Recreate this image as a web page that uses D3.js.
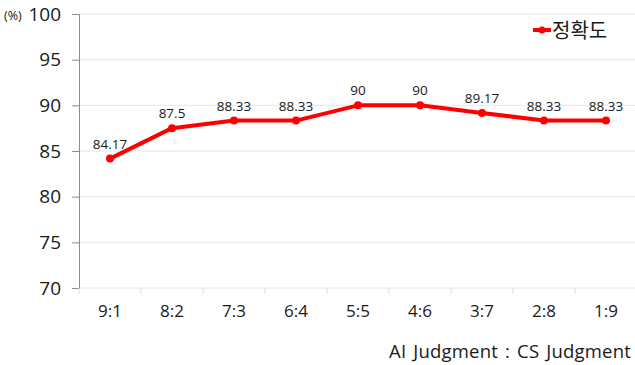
<!DOCTYPE html>
<html>
<head>
<meta charset="utf-8">
<script src="https://cdn.jsdelivr.net/npm/d3@7"></script>
<style>
  body { margin: 0; background: #fff; }
  svg text { font-family: "Open Sans", "Noto Sans CJK KR", sans-serif; fill: #1a1a1a; }
</style>
</head>
<body>
<svg width="635" height="365"></svg>
<script>
const categories = ["9:1", "8:2", "7:3", "6:4", "5:5", "4:6", "3:7", "2:8", "1:9"];
const accuracy = [84.17, 87.5, 88.33, 88.33, 90, 90, 89.17, 88.33, 88.33];
const valueLabels = ["84.17", "87.5", "88.33", "88.33", "90", "90", "89.17", "88.33", "88.33"];
const yTicks = [70, 75, 80, 85, 90, 95, 100];
const seriesName = "정확도";

const svg = d3.select("svg");
const plotLeft = 79, plotRight = 637, plotTop = 14, plotBottom = 288;

const x = d3.scaleBand().domain(categories).range([plotLeft, plotRight]);
const y = d3.scaleLinear().domain([70, 100]).range([plotBottom, plotTop]);

// gridlines
svg.append("g")
    .selectAll("line")
    .data(yTicks)
    .enter().append("line")
    .attr("x1", plotLeft).attr("x2", plotRight)
    .attr("y1", d => y(d)).attr("y2", d => y(d))
    .attr("stroke", "#e6e6e6").attr("stroke-width", 1);

// y axis
const yAxis = svg.append("g")
    .attr("transform", `translate(${plotLeft},0)`)
    .call(d3.axisLeft(y).tickValues(yTicks).tickSize(7).tickPadding(11));
yAxis.select(".domain").attr("stroke", "#8c8c8c");
yAxis.selectAll(".tick line").attr("stroke", "#8c8c8c");
yAxis.selectAll(".tick text").attr("font-size", 19).attr("fill", "#1a1a1a")
    .style("font-family", "'Open Sans', sans-serif");

// x axis ticks at band boundaries
const bounds = categories.map(c => x(c)).concat([plotRight]);
svg.append("g")
    .selectAll("line")
    .data(bounds)
    .enter().append("line")
    .attr("x1", d => d).attr("x2", d => d)
    .attr("y1", plotBottom).attr("y2", plotBottom + 6)
    .attr("stroke", "#e0e0e0");

svg.append("g")
    .selectAll("text")
    .data(categories)
    .enter().append("text")
    .attr("x", d => x(d) + x.bandwidth() / 2)
    .attr("y", plotBottom + 29)
    .attr("text-anchor", "middle")
    .attr("font-size", 17)
    .text(d => d);

svg.append("text")
    .attr("x", 4).attr("y", 20)
    .attr("font-size", 12.5)
    .text("(%)");

const pts = categories.map((c, i) => ({cat: c, v: accuracy[i], label: valueLabels[i]}));

svg.append("path")
    .datum(pts)
    .attr("fill", "none")
    .attr("stroke", "#ff0000")
    .attr("stroke-width", 4)
    .attr("stroke-linejoin", "round")
    .attr("d", d3.line().x(d => x(d.cat) + x.bandwidth() / 2).y(d => y(d.v)));

svg.append("g")
    .selectAll("circle")
    .data(pts)
    .enter().append("circle")
    .attr("cx", d => x(d.cat) + x.bandwidth() / 2)
    .attr("cy", d => y(d.v))
    .attr("r", 4)
    .attr("fill", "#ff0000");

svg.append("g")
    .selectAll("text")
    .data(pts)
    .enter().append("text")
    .attr("x", d => x(d.cat) + x.bandwidth() / 2)
    .attr("y", d => y(d.v) - 10)
    .attr("text-anchor", "middle")
    .attr("font-size", 13.5)
    .text(d => d.label);

// legend
svg.append("line")
    .attr("x1", 533).attr("x2", 551).attr("y1", 30).attr("y2", 30)
    .attr("stroke", "#ff0000").attr("stroke-width", 4);
svg.append("circle")
    .attr("cx", 542).attr("cy", 30).attr("r", 3.5).attr("fill", "#ff0000");
svg.append("text")
    .attr("x", 552).attr("y", 38)
    .attr("font-size", 20)
    .style("font-family", "'Noto Sans CJK KR', sans-serif")
    .text(seriesName);

svg.append("text")
    .attr("x", 631).attr("y", 358)
    .attr("text-anchor", "end")
    .attr("font-size", 18.5)
    .attr("letter-spacing", 0.2)
    .attr("word-spacing", 2)
    .text("AI Judgment : CS Judgment");
</script>
</body>
</html>
